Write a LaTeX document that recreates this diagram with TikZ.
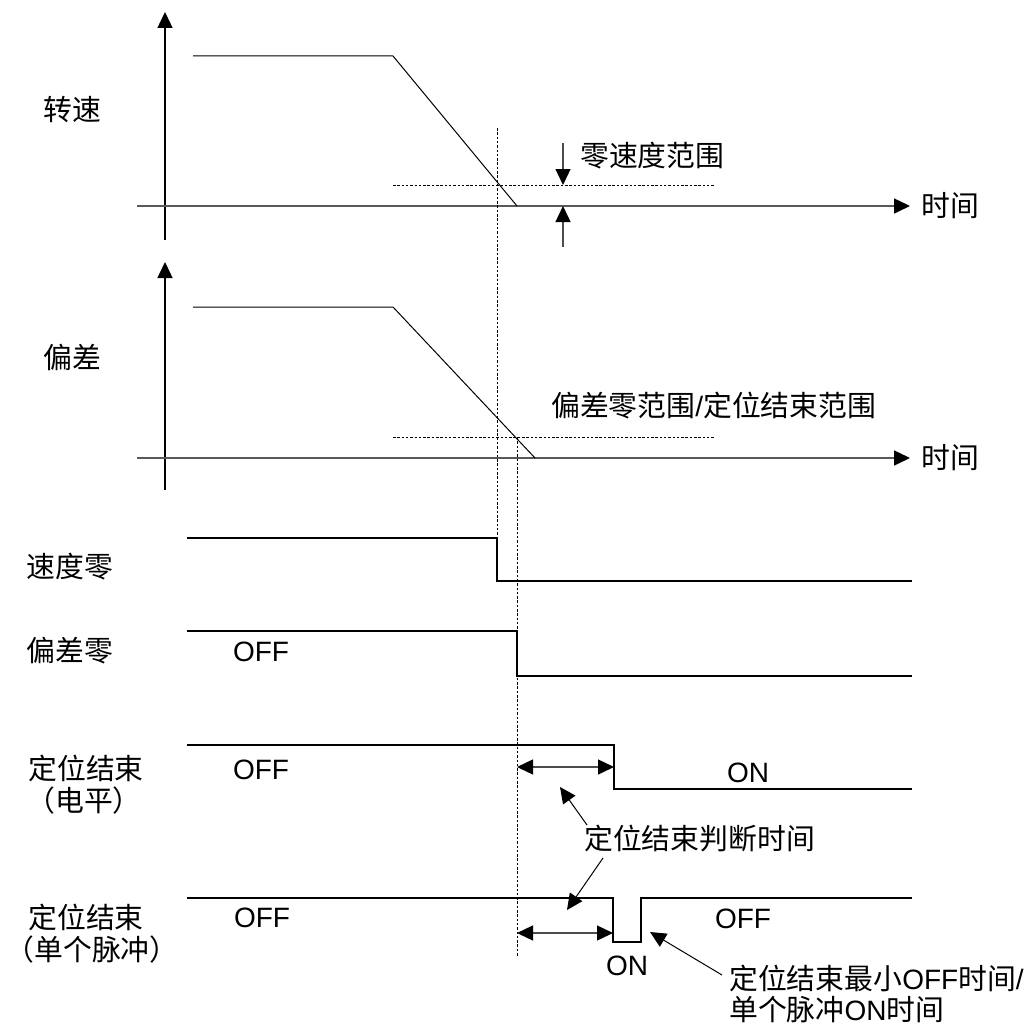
\documentclass[tikz,border=0pt]{standalone}
\usepackage{fontspec}
\setmainfont{Liberation Sans}
\newfontfamily\cjk{Noto Sans CJK SC}[Scale=1.03]
\usetikzlibrary{arrows.meta}
\tikzset{
  sig/.style={line width=1.3pt, black},
  tip/.tip={Triangle[length=16pt,width=15pt,color=black]},
  axisline/.style={line width=1.4pt, black, -tip},
  timeaxis/.style={line width=1.5pt, black!65, -tip},
  guide/.style={line width=0.9pt, black, dash pattern=on 2.5pt off 1.8pt},
  dim/.style={line width=1.3pt, black!70, -tip},
  ddim/.style={line width=1.3pt, black!70, tip-tip},
  callout/.style={line width=1pt, black, -tip},
  lbl/.style={font=\fontsize{28}{32}\selectfont\cjk, inner sep=0pt},
  lat/.style={font=\fontsize{28}{32}\selectfont, inner sep=0pt},
}
\begin{document}
\begin{tikzpicture}[x=1pt,y=-1pt]
\useasboundingbox (0,0) rectangle (1035,1025);
% ---------------- top chart: speed
\coordinate (ya1b) at (165,240); \coordinate (ya1t) at (165,12);
\coordinate (ta1l) at (137,206); \coordinate (ta1r) at (910,206);
\draw[axisline] (ya1b) -- (ya1t);
\draw[timeaxis] (ta1l) -- (ta1r);
\node[lbl, anchor=west] (t1) at (921,206) {时间};
\node[lbl] (spd) at (72,110) {转速};
\coordinate (s0) at (193,56); \coordinate (s1) at (393,56); \coordinate (s2) at (517,206);
\draw[sig, line width=1pt] (s0) -- (s1) -- (s2);
\coordinate (zr1) at (393,185); \coordinate (zr2) at (715,185);
\draw[guide] (zr1) -- (zr2);
\coordinate (za1) at (563,143); \coordinate (za1t) at (563,185);
\coordinate (za2) at (563,247); \coordinate (za2t) at (563,206);
\draw[dim] (za1) -- (za1t);
\draw[dim] (za2) -- (za2t);
\node[lbl, anchor=west] (zsr) at (580,156) {零速度范围};
% ---------------- second chart: deviation
\coordinate (ya2b) at (165,490); \coordinate (ya2t) at (165,262);
\coordinate (ta2l) at (137,458); \coordinate (ta2r) at (910,458);
\draw[axisline] (ya2b) -- (ya2t);
\draw[timeaxis] (ta2l) -- (ta2r);
\node[lbl, anchor=west] (t2) at (921,458) {时间};
\node[lbl] (dev) at (72,357) {偏差};
\coordinate (d0) at (193,307); \coordinate (d1) at (393,307); \coordinate (d2) at (535,458);
\draw[sig, line width=1pt] (d0) -- (d1) -- (d2);
\coordinate (dr1) at (393,437); \coordinate (dr2) at (715,437);
\draw[guide] (dr1) -- (dr2);
\node[font=\fontsize{28}{32}\selectfont, inner sep=0pt, anchor=west] (dzr) at (551,406) {{\cjk 偏差零范围}/{\cjk 定位结束范围}};
% ---------------- guide verticals
\coordinate (g1t) at (497,128); \coordinate (g1b) at (497,538);
\coordinate (g2t) at (517,437); \coordinate (g2b) at (517,956);
\draw[guide] (g1t) -- (g1b);
\draw[guide] (g2t) -- (g2b);
% ---------------- speed zero signal
\node[lbl] (szl) at (70,567) {速度零};
\draw[sig] (187,538) -- (497,538) -- (497,581) -- (912,581);
% ---------------- deviation zero signal
\node[lbl] (dzl) at (70,651) {偏差零};
\node[lat] (off1) at (261,652) {OFF};
\draw[sig] (187,631) -- (517,631) -- (517,676) -- (912,676);
% ---------------- positioning complete (level)
\node[lbl] (pc1a) at (86,768) {定位结束};
\node[lbl] (pc1b) at (84,801) {（电平）};
\node[lat] (off2) at (261,770) {OFF};
\node[lat] (on1) at (748,773) {ON};
\draw[sig] (187,745) -- (614,745) -- (614,789) -- (912,789);
\coordinate (j1a) at (517,767); \coordinate (j1b) at (614,767);
\draw[ddim] (j1a) -- (j1b);
% ---------------- positioning complete (single pulse)
\node[lbl] (pc2a) at (86,917) {定位结束};
\node[lbl] (pc2b) at (92,950) {（单个脉冲）};
\node[lat] (off3) at (262,918) {OFF};
\node[lat] (off4) at (743,919) {OFF};
\node[lat] (on2) at (627,966) {ON};
\draw[sig] (187,898) -- (613,898) -- (613,942) -- (641,942) -- (641,898) -- (912,898);
\coordinate (j2a) at (517,933); \coordinate (j2b) at (613,933);
\draw[ddim] (j2a) -- (j2b);
% ---------------- callouts
\node[lbl, anchor=west] (jt) at (584,839) {定位结束判断时间};
\coordinate (c1s) at (587,825); \coordinate (c1t) at (560,787);
\coordinate (c2s) at (603,858); \coordinate (c2t) at (567,910);
\draw[callout] (c1s) -- (c1t);
\draw[callout] (c2s) -- (c2t);
\node[font=\fontsize{28}{32}\selectfont, inner sep=0pt, anchor=west] (mo1) at (729,978) {{\cjk 定位结束最小}OFF{\cjk 时间}/};
\node[font=\fontsize{28}{32}\selectfont, inner sep=0pt, anchor=west] (mo2) at (729,1010) {{\cjk 单个脉冲}ON{\cjk 时间}};
\coordinate (c3s) at (722,975); \coordinate (c3t) at (650,932);
\draw[callout] (c3s) -- (c3t);
\end{tikzpicture}
\end{document}
